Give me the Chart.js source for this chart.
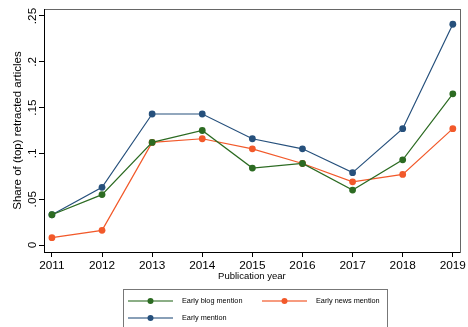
<!DOCTYPE html>
<html>
<head>
<meta charset="utf-8">
<script src="https://cdn.jsdelivr.net/npm/chart.js@4"></script>
<style>
  html, body { margin: 0; padding: 0; background: #fff; }
  #wrap { width: 468px; height: 327px; position: relative; }
</style>
</head>
<body>
<div id="wrap"><canvas id="mainChart" width="468" height="327"></canvas></div>
<script>
// valori
const years = [2011, 2012, 2013, 2014, 2015, 2016, 2017, 2018, 2019]
const blogMention = [0.033, 0.055, 0.112, 0.125, 0.084, 0.089, 0.060, 0.093, 0.165]
const newsMention = [0.008, 0.016, 0.112, 0.116, 0.105, 0.089, 0.069, 0.077, 0.127]
const earlyMention = [0.033, 0.063, 0.143, 0.143, 0.116, 0.105, 0.079, 0.127, 0.241]
const yTicks = [0, 0.05, 0.1, 0.15, 0.2, 0.25]
const yTickLabels = [`0`, `.05`, `.1`, `.15`, `.2`, `.25`]
const seriesNames = [`Early blog mention`, `Early news mention`, `Early mention`]

const font = `"Liberation Sans", Arial, Helvetica, sans-serif`
const colors = [`#2c6b22`, `#f2592a`, `#26507c`]
const legendLines = [`rgba(44,107,34,0.55)`, `rgba(242,89,42,0.6)`, `rgba(38,80,124,0.55)`]

const toPoints = (vals) => vals.map((v, i) => ({ x: years[i], y: v }))

const makeSet = (i, vals) => ({
  label: seriesNames[i],
  data: toPoints(vals),
  borderColor: colors[i],
  backgroundColor: colors[i],
  pointBackgroundColor: colors[i],
  borderWidth: 1.2,
  pointRadius: 3.4,
  pointBorderWidth: 0,
  tension: 0,
})

// cornice grigia del plot (sopra e a destra)
const framePlugin = {
  id: `frame`,
  beforeDraw(chart) {
    const { ctx, chartArea: a } = chart
    ctx.save()
    ctx.strokeStyle = `#666`
    ctx.lineWidth = 1
    ctx.strokeRect(Math.round(a.left) + 0.5, Math.round(a.top) + 0.5, Math.round(a.right - a.left), Math.round(a.bottom - a.top))
    ctx.restore()
  },
}

// etichette asse Y ruotate (stile Stata)
const yLabelsPlugin = {
  id: `yLabels`,
  afterDraw(chart) {
    const { ctx } = chart
    const y = chart.scales.y
    ctx.save()
    ctx.fillStyle = `#000`
    ctx.font = `11.8px ${font}`
    ctx.textAlign = `center`
    ctx.textBaseline = `alphabetic`
    yTicks.forEach((v, i) => {
      ctx.save()
      ctx.translate(35.5, y.getPixelForValue(v))
      ctx.rotate(-Math.PI / 2)
      ctx.fillText(yTickLabels[i], 0, 0)
      ctx.restore()
    })
    ctx.restore()
  },
}

// legenda in basso con riquadro
const legendPlugin = {
  id: `boxLegend`,
  afterDraw(chart) {
    const { ctx } = chart
    ctx.save()
    ctx.strokeStyle = `#777`
    ctx.lineWidth = 1
    ctx.strokeRect(123.5, 289.5, 264, 60)
    const slots = [
      { x: 128, y: 301 },
      { x: 262, y: 301 },
      { x: 128, y: 318 },
    ]
    chart.data.datasets.forEach((ds, i) => {
      const s = slots[i]
      ctx.strokeStyle = legendLines[i]
      ctx.lineWidth = 2
      ctx.beginPath()
      ctx.moveTo(s.x, s.y)
      ctx.lineTo(s.x + 45, s.y)
      ctx.stroke()
      ctx.fillStyle = ds.pointBackgroundColor
      ctx.beginPath()
      ctx.arc(s.x + 22.5, s.y, 3, 0, Math.PI * 2)
      ctx.fill()
      ctx.fillStyle = `#000`
      ctx.font = `7.3px ${font}`
      ctx.textAlign = `left`
      ctx.textBaseline = `middle`
      ctx.fillText(ds.label, s.x + 54, s.y)
    })
    ctx.restore()
  },
}

const chart = document.getElementById(`mainChart`)

new Chart(chart, {
  type: `line`,
  data: {
    datasets: [makeSet(0, blogMention), makeSet(1, newsMention), makeSet(2, earlyMention)],
  },
  options: {
    responsive: false,
    animation: false,
    layout: { padding: { top: 9, right: 4, left: 0, bottom: 0 } },
    plugins: {
      legend: { display: false },
      tooltip: { enabled: false },
    },
    scales: {
      x: {
        type: `linear`,
        min: 2010.842,
        max: 2019.138,
        afterBuildTicks: (scale) => {
          scale.ticks = years.map((v) => ({ value: v }))
        },
        afterFit: (scale) => {
          scale.height = 75
        },
        ticks: {
          autoSkip: false,
          maxRotation: 0,
          padding: 2,
          color: `#000`,
          font: { family: font, size: 11.8 },
          callback: (v) => String(v),
        },
        grid: { display: true, drawOnChartArea: false, drawTicks: true, tickLength: 5, color: `#000` },
        border: { display: true, color: `#000`, width: 1 },
        title: {
          display: true,
          text: `Publication year`,
          color: `#000`,
          font: { family: font, size: 9.5 },
          padding: { top: 0, bottom: 44.6 },
        },
      },
      y: {
        min: -0.00764,
        max: 0.25764,
        afterBuildTicks: (scale) => {
          scale.ticks = yTicks.map((v) => ({ value: v }))
        },
        afterFit: (scale) => {
          scale.width = 44
        },
        ticks: { display: false },
        grid: { display: true, drawOnChartArea: false, drawTicks: true, tickLength: 5, color: `#000` },
        border: { display: true, color: `#000`, width: 1 },
        title: {
          display: true,
          text: `Share of (top) retracted articles`,
          color: `#000`,
          font: { family: font, size: 11.5 },
          padding: { top: 11, bottom: 0 },
        },
      },
    },
  },
  plugins: [framePlugin, yLabelsPlugin, legendPlugin],
})
</script>
</body>
</html>
